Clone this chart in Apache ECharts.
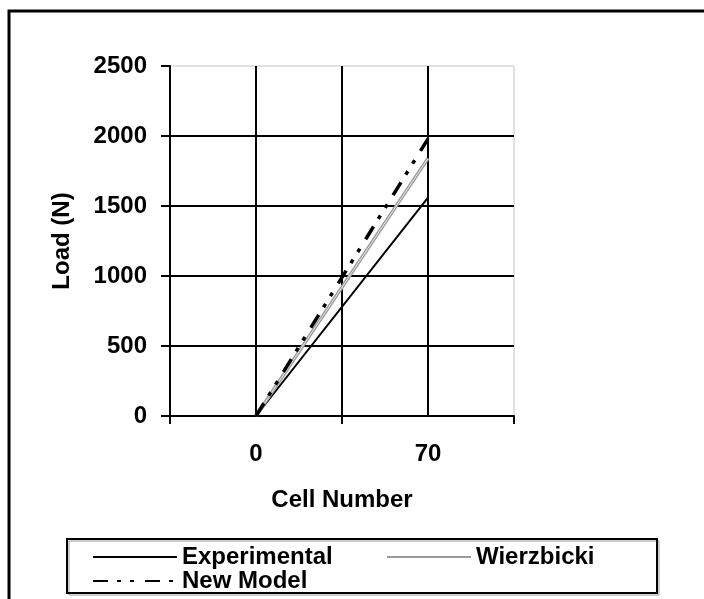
<!DOCTYPE html>
<html>
<head>
<meta charset="utf-8">
<script src="https://cdn.jsdelivr.net/npm/echarts@6/dist/echarts.min.js"></script>
<style>
html,body{margin:0;padding:0;background:#fff;}
#chart{width:704px;height:599px;}
</style>
</head>
<body>
<div id="chart"></div>
<script>
// ---- data ----
const cellNumbers = [0, 70];
const experimental = [0, 1560];
const wierzbicki = [0, 1840];
const newModel = [0, 1980];
const xTickLabels = [0, 70];
const yTickLabels = [0, 500, 1000, 1500, 2000, 2500];

const FONT = "'Liberation Sans', Arial, sans-serif";
const pairs = (xs, ys) => xs.map((x, i) => [x, ys[i]]);

const chart = echarts.init(document.getElementById('chart'), null, {renderer: 'canvas'});
const legendText = {fontFamily: FONT, fontWeight: 'bold', fontSize: 24, color: '#000'};
const legendBase = {padding: 0, itemWidth: 84, itemHeight: 22, textStyle: legendText, selectedMode: false,
  itemStyle: {opacity: 0}};

chart.setOption({
  animation: false,
  backgroundColor: '#fff',
  grid: {left: 170, right: 190, top: 66, bottom: 183, containLabel: false,
    show: true, borderColor: '#c4c4c4', borderWidth: 1, backgroundColor: 'transparent'},
  xAxis: [{
    type: 'value',
    position: 'bottom',
    min: -35, max: 105, interval: 35,
    name: 'Cell Number',
    nameLocation: 'middle',
    nameGap: 72,
    nameTextStyle: {fontFamily: FONT, fontWeight: 'bold', fontSize: 24, color: '#000'},
    axisLine: {show: true, onZero: false, lineStyle: {color: '#000', width: 2}},
    axisTick: {show: false},
    axisLabel: {customValues: xTickLabels, margin: 26, formatter: v => String(v),
      fontFamily: FONT, fontWeight: 'bold', fontSize: 24, color: '#000'},
    splitLine: {show: true, showMinLine: false, showMaxLine: false, lineStyle: {color: '#000', width: 2}}
  }, {
    type: 'value',
    position: 'bottom',
    offset: 0,
    min: -35, max: 105, interval: 70,
    axisLine: {show: false},
    axisTick: {show: true, inside: false, length: 8, lineStyle: {color: '#000', width: 2}},
    axisLabel: {show: false},
    splitLine: {show: false}
  }],
  yAxis: {
    type: 'value',
    min: 0, max: 2500, interval: 500,
    name: 'Load (N)',
    nameLocation: 'middle',
    nameGap: 96,
    nameTextStyle: {fontFamily: FONT, fontWeight: 'bold', fontSize: 24, color: '#000'},
    axisLine: {show: true, onZero: false, lineStyle: {color: '#000', width: 2}},
    axisTick: {show: true, inside: false, length: 9, lineStyle: {color: '#000', width: 2}},
    axisLabel: {margin: 23, formatter: v => String(v),
      fontFamily: FONT, fontWeight: 'bold', fontSize: 24, color: '#000'},
    splitLine: {show: true, showMinLine: false, showMaxLine: false, lineStyle: {color: '#000', width: 2}}
  },
  legend: [
    Object.assign({data: ['Experimental'], left: 92, top: 545}, legendBase),
    Object.assign({data: ['Wierzbicki'], left: 386, top: 545}, legendBase),
    Object.assign({data: ['New Model'], left: 92, top: 569}, legendBase)
  ],
  graphic: [
    {type: 'rect', shape: {x: 9, y: 11, width: 720, height: 620}, style: {fill: null, stroke: '#000', lineWidth: 3}, z: 100, silent: true},
    {type: 'rect', shape: {x: 69, y: 541, width: 590, height: 54}, style: {fill: null, stroke: '#999', lineWidth: 1}, z: 99, silent: true},
    {type: 'rect', shape: {x: 67, y: 539, width: 590, height: 54}, style: {fill: null, stroke: '#000', lineWidth: 2}, z: 100, silent: true}
  ],
  series: [
    {name: 'Experimental', type: 'line', xAxisIndex: 0, data: pairs(cellNumbers, experimental), symbol: 'none',
     lineStyle: {color: '#000', width: 2}, itemStyle: {color: '#000'}, z: 3},
    {name: 'Wierzbicki', type: 'line', xAxisIndex: 0, data: pairs(cellNumbers, wierzbicki), symbol: 'none',
     lineStyle: {color: '#9a9a9a', width: 3.5}, itemStyle: {color: '#9a9a9a'}, z: 3},
    {name: 'Wierzbicki', type: 'line', xAxisIndex: 0, data: pairs(cellNumbers, wierzbicki), symbol: 'none',
     lineStyle: {color: '#e6e6e6', width: 1}, itemStyle: {color: '#e6e6e6'}, z: 4},
    {name: 'New Model', type: 'line', xAxisIndex: 0, data: pairs(cellNumbers, newModel), symbol: 'none',
     lineStyle: {color: '#000', width: 3.5, type: [15, 9, 4, 9, 4, 11]}, itemStyle: {color: '#000'}, z: 5}
  ]
});
</script>
</body>
</html>
